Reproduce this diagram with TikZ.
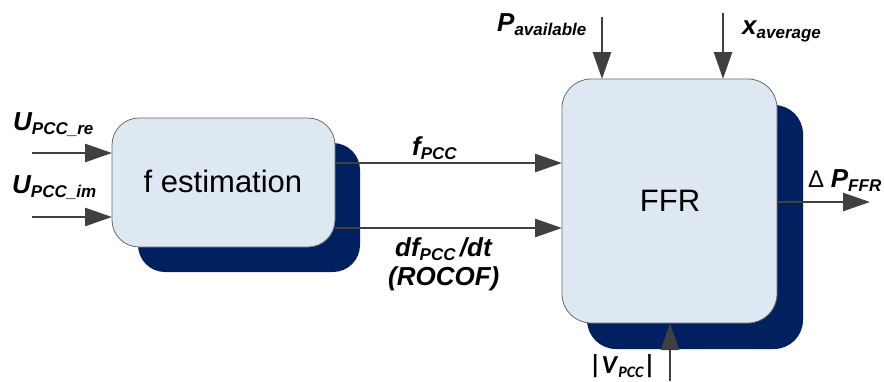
\documentclass[tikz,border=0pt]{standalone}
\usepackage{fontspec}
\setmainfont{Liberation Sans}
\newfontfamily\calib{Carlito}
\usetikzlibrary{arrows.meta}
\definecolor{boxfill}{HTML}{DEE8F2}
\definecolor{navy}{HTML}{002060}
\definecolor{arrgray}{HTML}{404040}
\definecolor{edgegray}{HTML}{6A6A6A}
\newcommand{\mainlab}[2]{{\fontsize{26}{26}\selectfont\bfseries\itshape #1\raisebox{-4pt}{\fontsize{17}{17}\selectfont #2}}}
\begin{document}
\begin{tikzpicture}[x=1pt,y=-1pt,
  arr/.style={draw=arrgray, line width=2.6pt, -{Triangle[length=27pt,width=18pt]}},
  shadowbox/.style={fill=navy, draw=none, inner sep=0pt, outer sep=0pt},
  mainbox/.style={fill=boxfill, draw=edgegray, line width=0.8pt, inner sep=0pt, outer sep=0pt},
  lab/.style={inner sep=0pt, anchor=base west}]
\useasboundingbox (0,0) rectangle (884,381);
% shadows
\node[shadowbox, rounded corners=27pt, minimum width=222pt, minimum height=129pt] (festsh) at (249,207.5) {};
\node[shadowbox, rounded corners=29pt, minimum width=216pt, minimum height=244pt] (ffrsh) at (695,227) {};
% boxes
\node[mainbox, rounded corners=27pt, minimum width=223pt, minimum height=129pt] (fest) at (223.5,182.5) {};
\node[inner sep=0pt, anchor=base] (festtxt) at (223,192) {\fontsize{31}{31}\selectfont f estimation};
\node[mainbox, rounded corners=29pt, minimum width=215pt, minimum height=244pt] (ffr) at (669.5,201) {};
\node[inner sep=0pt, anchor=base] (ffrtxt) at (670,211) {\fontsize{31}{31}\selectfont FFR};
% coordinates
\coordinate (ure) at (32,153);
\coordinate (uim) at (32,217);
\coordinate (yf) at (0,163);
\coordinate (yd) at (0,228);
\coordinate (pav) at (602,17);
\coordinate (xav) at (723,13);
\coordinate (vpcc) at (670,381);
\coordinate (dpout) at (870,202);
% arrows
\draw[arr] (ure) -- (fest.west |- ure);
\draw[arr] (uim) -- (fest.west |- uim);
\draw[arr] (fest.east |- yf) -- (ffr.west |- yf);
\draw[arr] (fest.east |- yd) -- (ffr.west |- yd);
\draw[arr] (pav) -- (pav |- ffr.north);
\draw[arr] (xav) -- (xav |- ffr.north);
\draw[arr] (vpcc) -- (vpcc |- ffr.south);
\draw[arr] (ffr.east |- dpout) -- (dpout);
% labels
\node[lab] (lure) at (13,130) {\mainlab{U}{PCC\_re}};
\node[lab] (luim) at (12,193) {\mainlab{U}{PCC\_im}};
\node[lab] (lf) at (412,155) {\mainlab{f}{PCC}};
\node[lab] (ld) at (395,256) {\mainlab{df}{PCC}{\fontsize{26}{26}\selectfont\bfseries\itshape\,/dt}};
\node[lab] (lroc) at (388,285) {{\fontsize{26}{26}\selectfont\bfseries\itshape (ROCOF)}};
\node[lab] (lpav) at (497,31) {\mainlab{P}{available}};
\node[lab] (lxav) at (742,34) {\mainlab{x}{average}};
\node[lab] (lv) at (589,373) {{\calib\fontsize{26}{26}\selectfont\bfseries |\textit{V}\raisebox{-4pt}{\fontsize{16}{16}\selectfont\itshape PCC}|}};
\node[lab] (ldp) at (808,187) {{\fontsize{24}{24}\selectfont Δ }\mainlab{P}{FFR}};
\end{tikzpicture}
\end{document}
